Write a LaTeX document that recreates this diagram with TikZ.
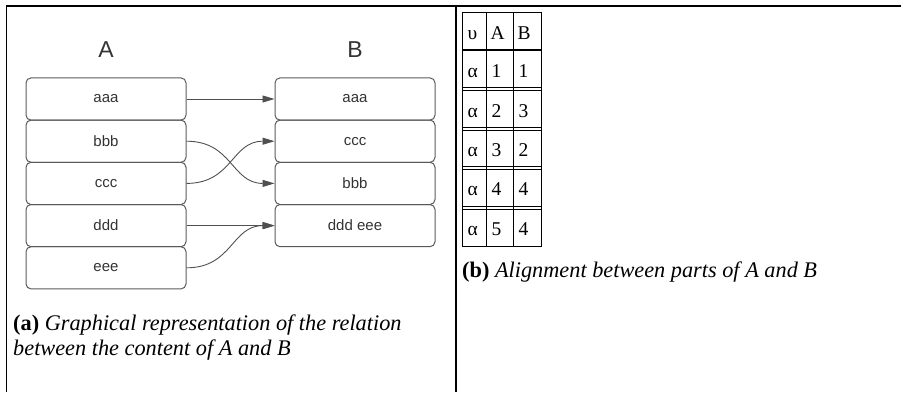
\documentclass[tikz,border=0pt]{standalone}
\usepackage{fontspec}
\setmainfont{Liberation Serif}
\newfontfamily\arialf{Liberation Sans}
\usetikzlibrary{arrows.meta}
\definecolor{boxgray}{HTML}{5A5A5A}
\definecolor{linkgray}{HTML}{505050}
\definecolor{txtgray}{HTML}{333333}
\begin{document}
\begin{tikzpicture}[x=1pt,y=-1pt,
  part/.style={draw=boxgray, line width=1pt, rounded corners=5pt, minimum width=160pt, minimum height=42.2pt, inner sep=0pt, font=\arialf\fontsize{15}{18}\selectfont, text=txtgray},
  head/.style={font=\arialf\fontsize{23}{28}\selectfont, text=txtgray, inner sep=0pt},
  link/.style={draw=linkgray, line width=0.9pt, -{Triangle[length=12pt,width=7pt]}},
  framestyle/.style={line width=1.3pt},
  captext/.style={font=\fontsize{22.3}{25}\selectfont, anchor=base west, inner sep=0pt},
  cell/.style={font=\fontsize{19.5}{22}\selectfont, anchor=base west, inner sep=0pt},
  tline/.style={line width=0.8pt}
]
\useasboundingbox (0,0) rectangle (901,392);
% frame
\draw[framestyle] (6.5,392) -- (6.5,6) -- (901,6);
\draw[framestyle] (456,6) -- (456,392);

% headings
\node[head, anchor=base] (hA) at (106,57) {A};
\node[head, anchor=base] (hB) at (355,57) {B};

% left boxes
\node[part] (a1) at (106,99) {aaa};
\node[part] (a2) at (106,141.2) {bbb};
\node[part] (a3) at (106,183.4) {ccc};
\node[part] (a4) at (106,225.6) {ddd};
\node[part] (a5) at (106,267.8) {eee};
% right boxes
\node[part] (b1) at (355,99) {aaa};
\node[part] (b2) at (355,141.2) {ccc};
\node[part] (b3) at (355,183.4) {bbb};
\node[part] (b4) at (355,225.6) {ddd eee};

% links
\draw[link] (a1.east) -- (b1.west);
\draw[link] (a2.east) .. controls +(46,0) and +(-43,0) .. (b3.west);
\draw[link] (a3.east) .. controls +(46,0) and +(-43,0) .. (b2.west);
\draw[link] (a4.east) -- (b4.west);
\draw[link] (a5.east) .. controls +(46,0) and +(-43,0) .. (b4.west);

% caption a
\node[captext] (capa1) at (13,330) {\textbf{(a)} \textit{Graphical representation of the relation}};
\node[captext] (capa2) at (13,355) {\textit{between the content of A and B}};

% table
\draw[tline] (462,12) rectangle (541,246);
\draw[tline] (486,12) -- (486,246);
\draw[tline] (513,12) -- (513,246);
\draw[line width=2.4pt] (462,50) -- (541,50);
\foreach \yy in {89,128.5,168,207.5} {
  \draw[tline] (462,\yy-1.6) -- (541,\yy-1.6);
  \draw[tline] (462,\yy+1.6) -- (541,\yy+1.6);
}
\node[cell] (h1) at (467.5,39) {υ};
\node[cell] (h2) at (490.5,39) {A};
\node[cell] (h3) at (517.5,39) {B};
\foreach \r/\yb/\va/\vb in {1/77.5/1/1, 2/117/2/3, 3/156/3/2, 4/195.5/4/4, 5/235/5/4} {
  \node[cell] (r\r c1) at (467.5,\yb) {α};
  \node[cell] (r\r c2) at (491.5,\yb) {\va};
  \node[cell] (r\r c3) at (518.5,\yb) {\vb};
}

% caption b
\node[captext] (capb) at (462,277) {\textbf{(b)} \textit{Alignment between parts of A and B}};
\end{tikzpicture}
\end{document}
